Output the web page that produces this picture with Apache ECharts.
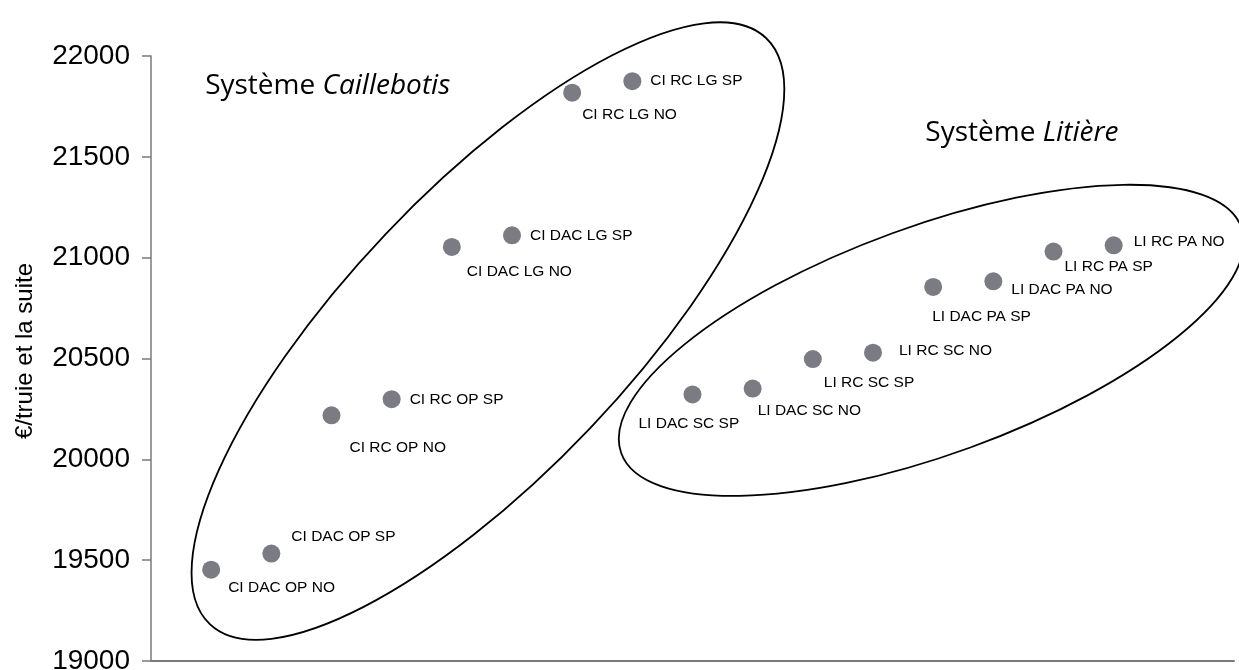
<!DOCTYPE html>
<html>
<head>
<meta charset="utf-8">
<script src="https://cdn.jsdelivr.net/npm/echarts@6/dist/echarts.min.js"></script>
<style>
html,body{margin:0;padding:0;background:#fff;}
#chart{width:1239px;height:670px;}
</style>
</head>
<body>
<div id="chart"></div>
<script>
// ---- data ----
const names = ['CI DAC OP NO','CI DAC OP SP','CI RC OP NO','CI RC OP SP','CI DAC LG NO','CI DAC LG SP','CI RC LG NO','CI RC LG SP',
               'LI DAC SC SP','LI DAC SC NO','LI RC SC SP','LI RC SC NO','LI DAC PA SP','LI DAC PA NO','LI RC PA SP','LI RC PA NO'];
const xPos = [1,2,3,4,5,6,7,8,9,10,11,12,13,14,15,16];
const yValues = [19453,19533,20218,20298,21053,21111,21818,21875,
                 20322,20351,20497,20529,20855,20883,21030,21061];
const yTicks = [19000,19500,20000,20500,21000,21500,22000];
const yTitle = '€/truie et la suite';
const groupTitles = [['Système ','Caillebotis'],['Système ','Litière']];

// ---- layout (label offsets from point centre: text left edge dx, text middle dy) ----
const labelOffsets = [[17,18],[20,-17],[18,32],[18,0],[15,25],[18,0],[10,22],[18,0],
                      [-54,29],[5,22],[11,24],[26,-2],[-1,30],[18,8],[11,15],[20,-4]];
const SYM = 18;

const chart = echarts.init(document.getElementById('chart'), null, {renderer:'canvas'});

const data = names.map((n,i)=>({
  name:n,
  value:[xPos[i], yValues[i]],
  label:{position:[SYM/2+labelOffsets[i][0], SYM/2+labelOffsets[i][1]]}
}));

chart.setOption({
  animation:false,
  backgroundColor:'#fff',
  grid:{left:151,right:5,top:56,bottom:9,containLabel:false,outerBoundsMode:'none'},
  xAxis:{
    type:'value',min:0,max:18,
    axisLine:{show:true,lineStyle:{color:'#7a7a7a',width:2}},
    axisTick:{show:false},axisLabel:{show:false},splitLine:{show:false}
  },
  yAxis:{
    type:'value',min:yTicks[0],max:yTicks[yTicks.length-1],interval:500,
    axisLine:{show:true,lineStyle:{color:'#7a7a7a',width:1.5}},
    axisTick:{show:true,length:9,lineStyle:{color:'#7a7a7a',width:1.5}},
    axisLabel:{fontSize:28,color:'#000',fontFamily:'Liberation Sans',margin:21,
               formatter:function(v){return String(v);}},
    splitLine:{show:false}
  },
  series:[{
    type:'scatter',
    symbol:'circle',
    symbolSize:SYM,
    itemStyle:{color:'#7b7b83',opacity:1},
    label:{show:true,formatter:'{b}',align:'left',verticalAlign:'middle',
           fontSize:15.5,color:'#000',fontFamily:'Liberation Sans'},
    emphasis:{disabled:true},
    data:data,
    z:3
  }]
});

// ellipses, group titles and axis title, anchored to the axes' coordinate system
const e1 = chart.convertToPixel({gridIndex:0},[5.6,20636]);
const e2 = chart.convertToPixel({gridIndex:0},[12.97,20590]);
const t1 = chart.convertToPixel({gridIndex:0},[0.9,21850]);
const t2 = chart.convertToPixel({gridIndex:0},[12.87,21620]);
const yt = chart.convertToPixel({gridIndex:0},[0,20537]);
const titleRich = {
  n:{fontSize:28,fontFamily:'Open Sans',color:'#000'},
  i:{fontSize:28,fontFamily:'Open Sans',fontStyle:'italic',color:'#000'}
};
chart.setOption({
  graphic:[
    {type:'ellipse',silent:true,z:1,x:e1[0],y:e1[1],rotation:46.5*Math.PI/180,
     shape:{cx:0,cy:0,rx:404,ry:141},style:{fill:'none',stroke:'#000',lineWidth:1.8}},
    {type:'ellipse',silent:true,z:1,x:e2[0],y:e2[1],rotation:20*Math.PI/180,
     shape:{cx:0,cy:0,rx:330,ry:114},style:{fill:'none',stroke:'#000',lineWidth:1.8}},
    {type:'text',silent:true,z:5,x:t1[0],y:t1[1],
     style:{text:'{n|'+groupTitles[0][0]+'}{i|'+groupTitles[0][1]+'}',rich:titleRich,verticalAlign:'middle',align:'left'}},
    {type:'text',silent:true,z:5,x:t2[0],y:t2[1],
     style:{text:'{n|'+groupTitles[1][0]+'}{i|'+groupTitles[1][1]+'}',rich:titleRich,verticalAlign:'middle',align:'left'}},
    {type:'text',silent:true,z:5,x:25,y:yt[1],rotation:Math.PI/2,
     style:{text:yTitle,fontSize:24,fontFamily:'Liberation Sans',fill:'#000',align:'center',verticalAlign:'middle'}}
  ]
});
</script>
</body>
</html>
